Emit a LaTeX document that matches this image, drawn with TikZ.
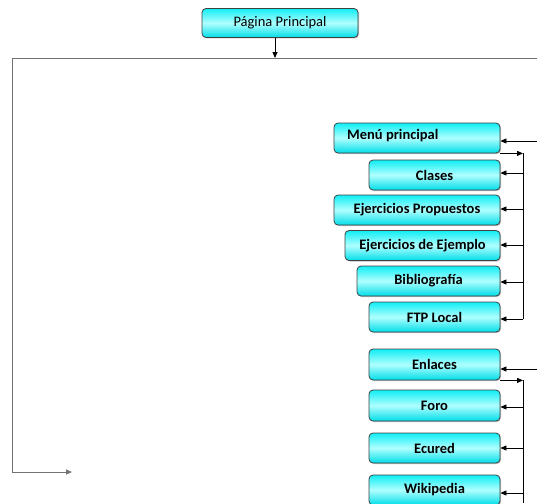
\documentclass[tikz,border=0pt]{standalone}
\usepackage{fontspec}
\setmainfont{Carlito}
\usetikzlibrary{arrows.meta,shadows}
\definecolor{boxtop}{HTML}{10EEF4}
\definecolor{boxmid}{HTML}{B0FFFF}
\definecolor{boxbot}{HTML}{00DDE8}
\tikzset{
  mbox/.style={draw=black!75, line width=0.8pt, rounded corners=4pt,
    top color=boxtop, bottom color=boxbot, middle color=boxmid,
    drop shadow={shadow xshift=1pt, shadow yshift=-1pt, opacity=0.5},
    font=\fontsize{14.5}{16}\selectfont\bfseries, inner sep=0pt},
  frame/.style={draw=black!55, line width=1pt},
  conn/.style={draw=black, line width=0.8pt, -{Triangle[length=6pt,width=5pt]}},
  link/.style={draw=black, line width=0.8pt}
}
\begin{document}
\begin{tikzpicture}[x=1pt,y=-1pt]
\useasboundingbox (0,0) rectangle (537,503);
% top box
\node[mbox, font=\fontsize{14.5}{16}\selectfont, minimum width=156pt, minimum height=29pt] (pp) at (280,23) {Página Principal};
\coordinate (ppin) at (275,58);
\draw[conn] (pp.south -| ppin) -- (ppin);
\coordinate (tl) at (12,58);
\coordinate (tr) at (537,58);
\coordinate (bl) at (12,472);
\coordinate (ba) at (72,472);
\draw[frame] (tr) -- (tl) -- (bl);
\draw[frame, -{Triangle[length=6pt,width=5pt]}, draw=black!55] (bl) -- (ba);

% first group
\node[mbox, minimum width=166pt, minimum height=30pt] (menu) at (417,138) {};
\node[font=\fontsize{14.5}{16}\selectfont\bfseries, anchor=west, inner sep=0pt] (menut) at (347,136) {Menú principal};
\node[mbox, minimum width=131pt, minimum height=30pt] (clases) at (434.5,175) {Clases};
\node[mbox, minimum width=166pt, minimum height=30pt] (ejp) at (417,210) {Ejercicios Propuestos};
\node[mbox, minimum width=155pt, minimum height=30pt] (eje) at (422.5,245.5) {Ejercicios de Ejemplo};
\node[mbox, minimum width=143pt, minimum height=30pt] (bib) at (428.5,281) {Bibliografía};
\node[mbox, minimum width=131pt, minimum height=30pt] (ftp) at (434.5,317) {FTP Local};

\coordinate (min) at (537,141);
\draw[conn] (min) -- (menu.east |- min);
\coordinate (v1t) at (523,153);
\coordinate (v1b) at (523,319);
\draw[conn] (menu.south east) -- (menu.south east -| v1t);
\draw[link] (v1t) -- (v1b);
\draw[conn] (523,173) -- (clases.east |- 523,173);
\draw[conn] (523,209) -- (ejp.east |- 523,209);
\draw[conn] (523,245) -- (eje.east |- 523,245);
\draw[conn] (523,282) -- (bib.east |- 523,282);
\draw[conn] (v1b) -- (ftp.east |- v1b);

% second group
\node[mbox, minimum width=131pt, minimum height=31pt] (enl) at (434.5,364.5) {Enlaces};
\node[mbox, minimum width=131pt, minimum height=31pt] (foro) at (434.5,405.5) {Foro};
\node[mbox, minimum width=131pt, minimum height=30pt] (ecu) at (434.5,448) {Ecured};
\node[mbox, minimum width=131pt, minimum height=30pt] (wiki) at (434.5,490) {Wikipedia};

\coordinate (ein) at (537,369);
\draw[conn] (ein) -- (enl.east |- ein);
\coordinate (v2t) at (523,380);
\coordinate (v2b) at (523,503);
\draw[conn] (enl.south east) -- (enl.south east -| v2t);
\draw[link] (v2t) -- (v2b);
\draw[conn] (523,407) -- (foro.east |- 523,407);
\draw[conn] (523,448) -- (ecu.east |- 523,448);
\draw[conn] (523,493) -- (wiki.east |- 523,493);
\end{tikzpicture}
\end{document}
